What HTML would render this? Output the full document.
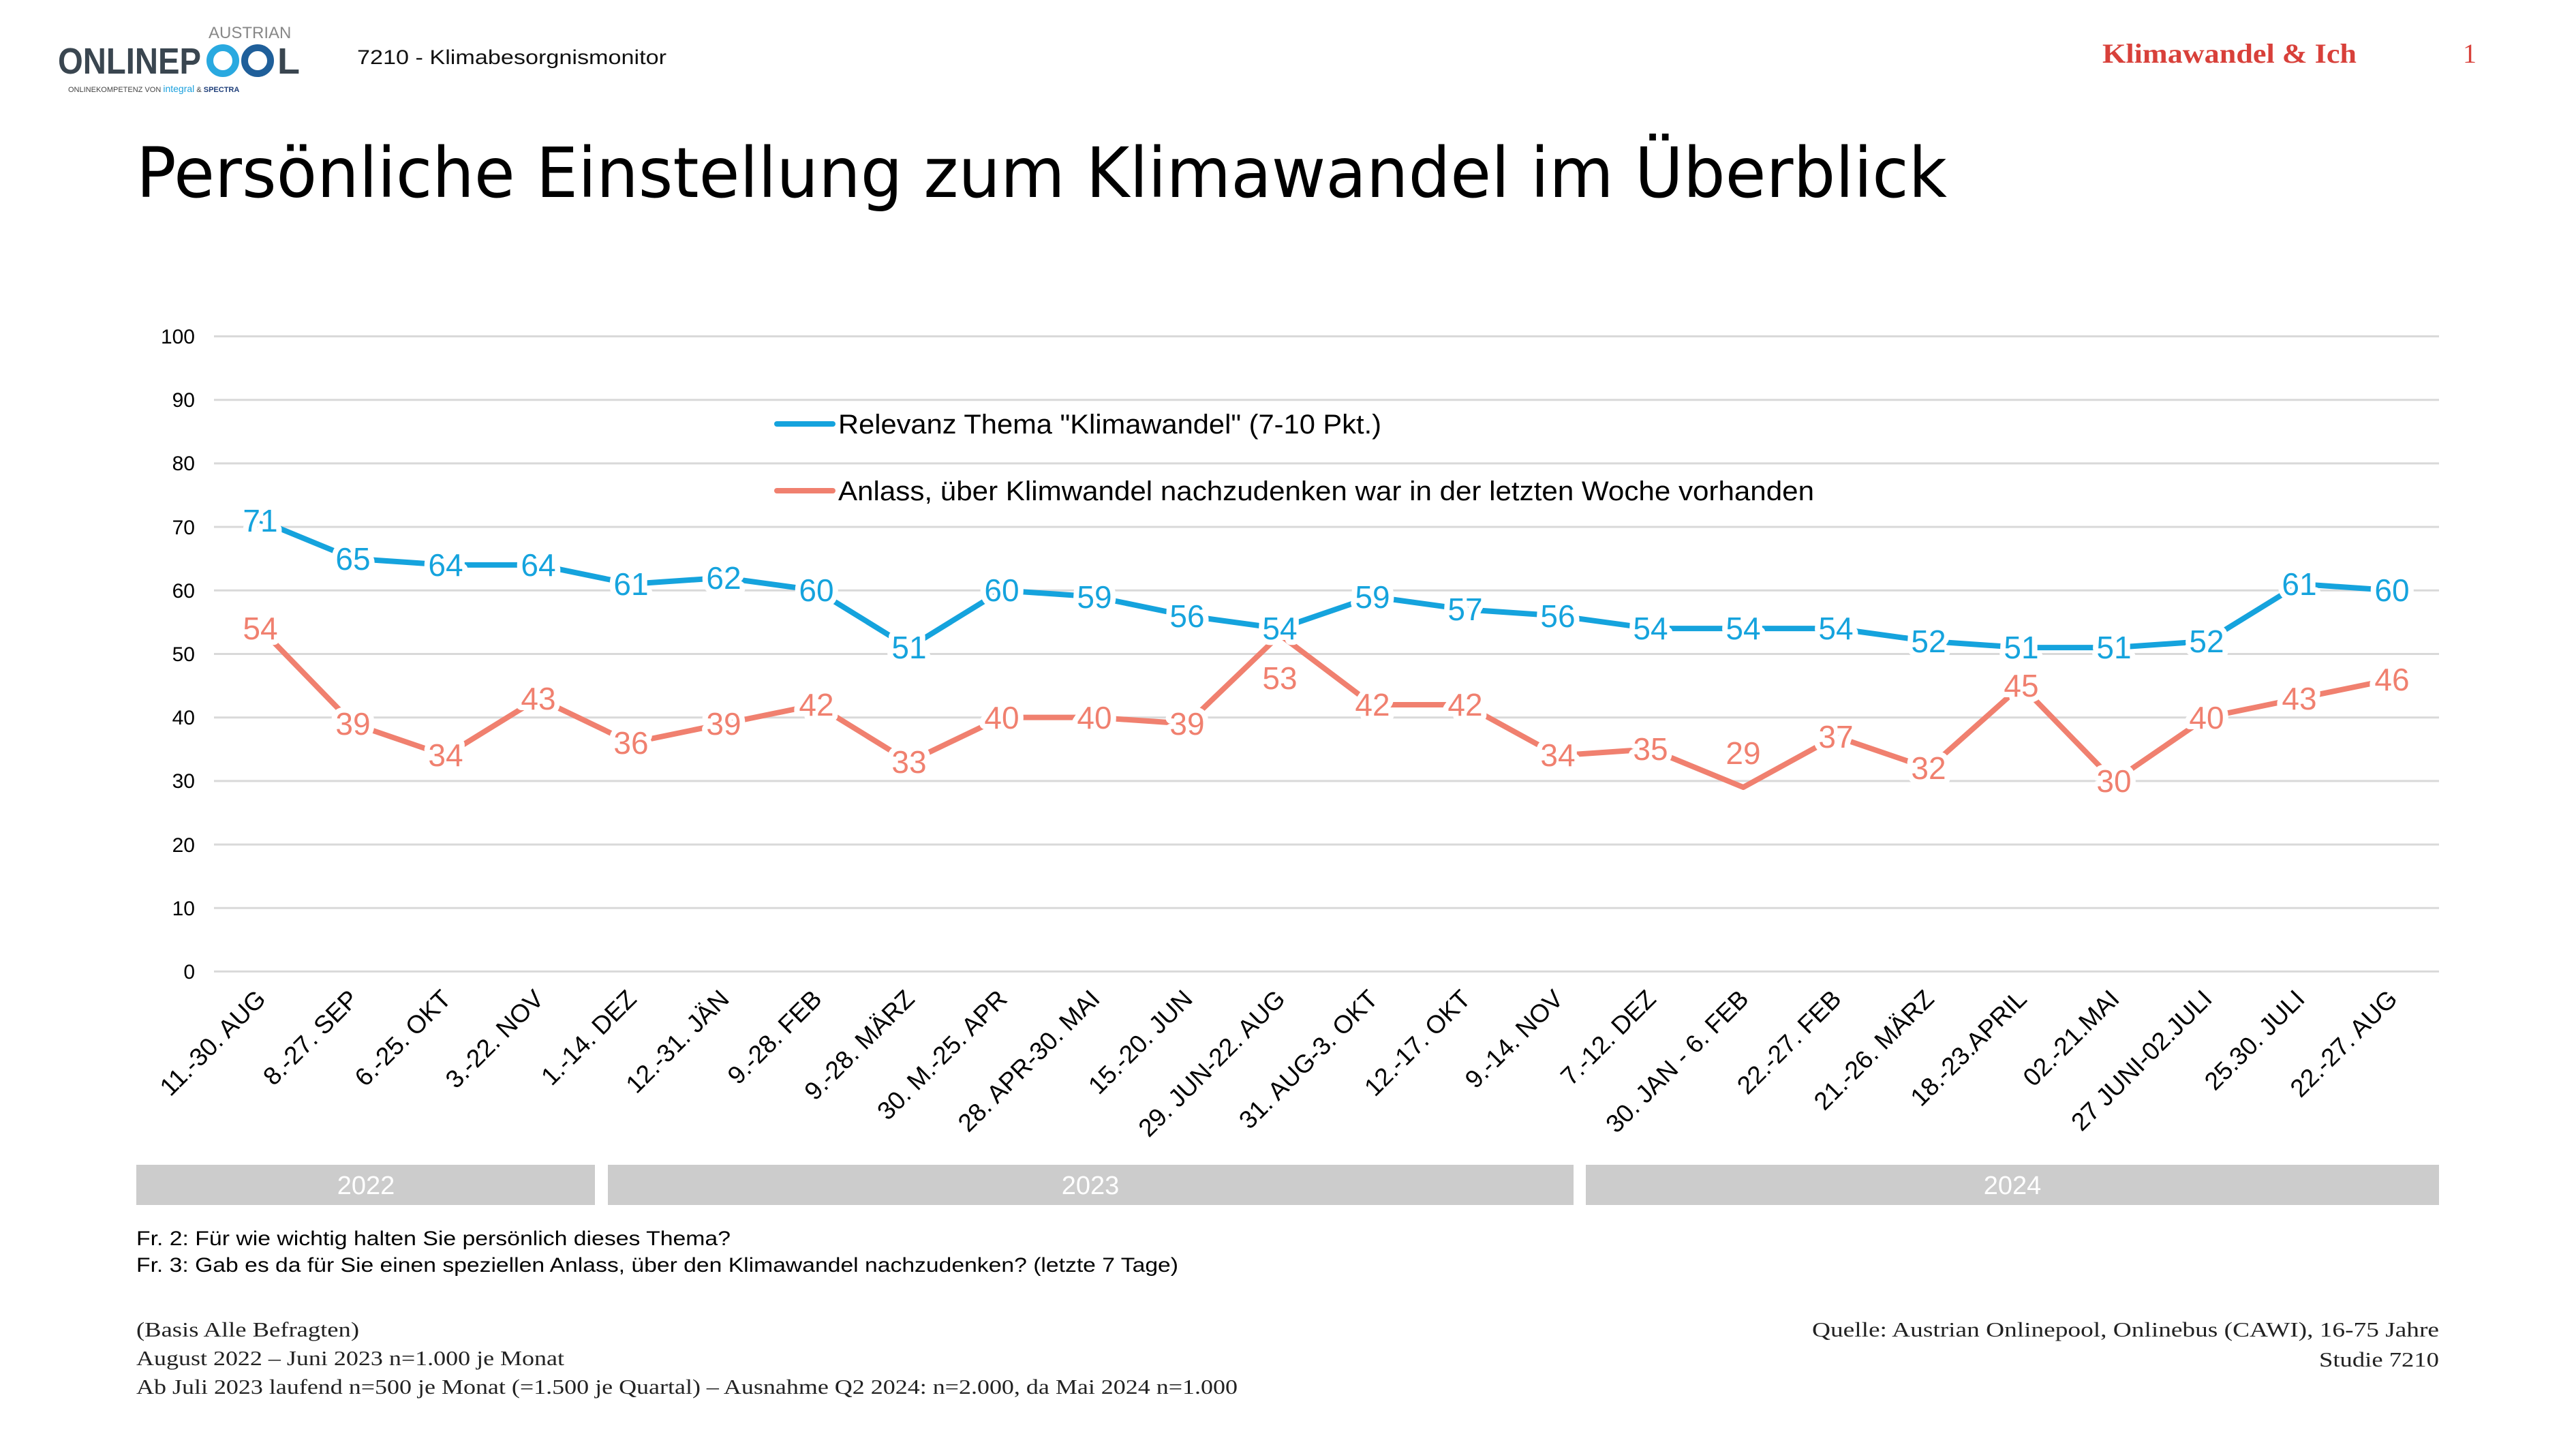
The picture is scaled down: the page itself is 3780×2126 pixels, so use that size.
<!DOCTYPE html>
<html><head><meta charset="utf-8"><style>
html,body{margin:0;padding:0;background:#fff}
svg{display:block}
text{font-family:"Liberation Sans","DejaVu Sans",sans-serif}
.tick{font-size:30px;fill:#000}
.cat{font-size:37px;fill:#000}
.lb{font-size:46px;paint-order:stroke;stroke:#fff;stroke-width:16px;stroke-linejoin:round}
.b{fill:#15a3dd}
.r{fill:#f0806f}
.ser{font-family:"Liberation Serif",serif;font-size:31px;fill:#222}
</style></head><body>
<svg width="3780" height="2126" viewBox="0 0 3780 2126" xmlns="http://www.w3.org/2000/svg">
<!-- logo -->
<text x="306" y="56" style="font-size:24px;fill:#888">AUSTRIAN</text>
<text x="85" y="108" style="font-size:54px;font-weight:bold;fill:#3a4650" textLength="210" lengthAdjust="spacingAndGlyphs">ONLINEP</text>
<circle cx="327" cy="89" r="19" fill="none" stroke="#29a9e0" stroke-width="10"/>
<circle cx="378" cy="89" r="19" fill="none" stroke="#1f5f9a" stroke-width="10"/>
<text x="407" y="108" style="font-size:54px;font-weight:bold;fill:#3a4650">L</text>
<text x="100" y="135" style="font-size:11px;fill:#444">ONLINEKOMPETENZ VON <tspan style="fill:#1aa0dd;font-size:14px">integral</tspan> &amp; <tspan style="fill:#1f3f7a;font-weight:bold">SPECTRA</tspan></text>
<text x="524" y="94" style="font-size:30px;fill:#111" textLength="454" lengthAdjust="spacingAndGlyphs">7210 - Klimabesorgnismonitor</text>
<text x="3085" y="92" style="font-family:'Liberation Serif',serif;font-size:40px;font-weight:bold;fill:#d8403a" textLength="373" lengthAdjust="spacingAndGlyphs">Klimawandel &amp; Ich</text>
<text x="3614" y="92" style="font-family:'Liberation Serif',serif;font-size:40px;fill:#d8403a">1</text>
<text x="200" y="289" style="font-family:'DejaVu Sans',sans-serif;font-size:102px;fill:#000" textLength="2657" lengthAdjust="spacingAndGlyphs">Persönliche Einstellung zum Klimawandel im Überblick</text>

<!-- grid -->
<g stroke="#d9d9d9" stroke-width="3">
<line x1="314" x2="3579" y1="493.5" y2="493.5"/><line x1="314" x2="3579" y1="586.7" y2="586.7"/>
<line x1="314" x2="3579" y1="679.9" y2="679.9"/><line x1="314" x2="3579" y1="773.1" y2="773.1"/>
<line x1="314" x2="3579" y1="866.3" y2="866.3"/><line x1="314" x2="3579" y1="959.5" y2="959.5"/>
<line x1="314" x2="3579" y1="1052.7" y2="1052.7"/><line x1="314" x2="3579" y1="1145.9" y2="1145.9"/>
<line x1="314" x2="3579" y1="1239.1" y2="1239.1"/><line x1="314" x2="3579" y1="1332.3" y2="1332.3"/>
<line x1="314" x2="3579" y1="1425.4" y2="1425.4"/>
</g>
<g class="tick" text-anchor="end">
<text x="286" y="504">100</text><text x="286" y="597">90</text><text x="286" y="690">80</text>
<text x="286" y="784">70</text><text x="286" y="877">60</text><text x="286" y="970">50</text>
<text x="286" y="1063">40</text><text x="286" y="1156">30</text><text x="286" y="1250">20</text>
<text x="286" y="1343">10</text><text x="286" y="1436">0</text>
</g>

<!-- legend -->
<line x1="1140" x2="1222" y1="622" y2="622" stroke="#15a3dd" stroke-width="8" stroke-linecap="round"/>
<text x="1230" y="636" style="font-size:40px" textLength="797" lengthAdjust="spacingAndGlyphs">Relevanz Thema "Klimawandel" (7-10 Pkt.)</text>
<line x1="1140" x2="1222" y1="720" y2="720" stroke="#f0806f" stroke-width="8" stroke-linecap="round"/>
<text x="1230" y="734" style="font-size:40px" textLength="1432" lengthAdjust="spacingAndGlyphs">Anlass, über Klimwandel nachzudenken war in der letzten Woche vorhanden</text>

<!-- series -->
<polyline fill="none" stroke="#15a3dd" stroke-width="8" stroke-linejoin="round" points="382,763.7 518,819.6 654,828.9 790,828.9 926,856.9 1062,847.6 1198,866.2 1334,950.1 1470,866.2 1606,875.5 1742,903.5 1878,922.1 2014,875.5 2150,894.2 2286,903.5 2422,922.1 2558,922.1 2694,922.1 2830,940.8 2966,950.1 3102,950.1 3238,940.8 3374,856.9 3510,866.2"/>
<polyline fill="none" stroke="#f0806f" stroke-width="8" stroke-linejoin="round" points="382,922.1 518,1061.9 654,1108.5 790,1024.6 926,1089.9 1062,1061.9 1198,1034 1334,1117.8 1470,1052.6 1606,1052.6 1742,1061.9 1878,931.4 2014,1034 2150,1034 2286,1108.5 2422,1099.2 2558,1155.1 2694,1080.6 2830,1127.2 2966,1006 3102,1145.8 3238,1052.6 3374,1024.6 3510,996.7"/>

<g class="lb b" text-anchor="middle" dominant-baseline="central">
<text x="382" y="764">71</text><text x="518" y="820">65</text><text x="654" y="829">64</text><text x="790" y="829">64</text>
<text x="926" y="857">61</text><text x="1062" y="848">62</text><text x="1198" y="866">60</text><text x="1334" y="950">51</text>
<text x="1470" y="866">60</text><text x="1606" y="876">59</text><text x="1742" y="904">56</text><text x="1878" y="922">54</text>
<text x="2014" y="876">59</text><text x="2150" y="894">57</text><text x="2286" y="904">56</text><text x="2422" y="922">54</text>
<text x="2558" y="922">54</text><text x="2694" y="922">54</text><text x="2830" y="941">52</text><text x="2966" y="950">51</text>
<text x="3102" y="950">51</text><text x="3238" y="941">52</text><text x="3374" y="857">61</text><text x="3510" y="866">60</text>
</g>
<g class="lb r" text-anchor="middle" dominant-baseline="central">
<text x="382" y="922">54</text><text x="518" y="1062">39</text><text x="654" y="1108">34</text><text x="790" y="1025">43</text>
<text x="926" y="1090">36</text><text x="1062" y="1062">39</text><text x="1198" y="1034">42</text><text x="1334" y="1118">33</text>
<text x="1470" y="1053">40</text><text x="1606" y="1053">40</text><text x="1742" y="1062">39</text><text x="1878" y="995">53</text>
<text x="2014" y="1034">42</text><text x="2150" y="1034">42</text><text x="2286" y="1108">34</text><text x="2422" y="1099">35</text>
<text x="2558" y="1105">29</text><text x="2694" y="1081">37</text><text x="2830" y="1127">32</text><text x="2966" y="1006">45</text>
<text x="3102" y="1146">30</text><text x="3238" y="1053">40</text><text x="3374" y="1025">43</text><text x="3510" y="997">46</text>
</g>

<!-- categories -->
<g class="cat" text-anchor="end">
<text transform="translate(392,1468) rotate(-45)">11.-30. AUG</text>
<text transform="translate(528,1468) rotate(-45)">8.-27. SEP</text>
<text transform="translate(664,1468) rotate(-45)">6.-25. OKT</text>
<text transform="translate(800,1468) rotate(-45)">3.-22. NOV</text>
<text transform="translate(936,1468) rotate(-45)">1.-14. DEZ</text>
<text transform="translate(1072,1468) rotate(-45)">12.-31. JÄN</text>
<text transform="translate(1208,1468) rotate(-45)">9.-28. FEB</text>
<text transform="translate(1344,1468) rotate(-45)">9.-28. MÄRZ</text>
<text transform="translate(1480,1468) rotate(-45)">30. M.-25. APR</text>
<text transform="translate(1616,1468) rotate(-45)">28. APR-30. MAI</text>
<text transform="translate(1752,1468) rotate(-45)">15.-20. JUN</text>
<text transform="translate(1888,1468) rotate(-45)">29. JUN-22. AUG</text>
<text transform="translate(2024,1468) rotate(-45)">31. AUG-3. OKT</text>
<text transform="translate(2160,1468) rotate(-45)">12.-17. OKT</text>
<text transform="translate(2296,1468) rotate(-45)">9.-14. NOV</text>
<text transform="translate(2432,1468) rotate(-45)">7.-12. DEZ</text>
<text transform="translate(2568,1468) rotate(-45)">30. JAN - 6. FEB</text>
<text transform="translate(2704,1468) rotate(-45)">22.-27. FEB</text>
<text transform="translate(2840,1468) rotate(-45)">21.-26. MÄRZ</text>
<text transform="translate(2976,1468) rotate(-45)">18.-23.APRIL</text>
<text transform="translate(3112,1468) rotate(-45)">02.-21.MAI</text>
<text transform="translate(3248,1468) rotate(-45)">27 JUNI-02.JULI</text>
<text transform="translate(3384,1468) rotate(-45)">25.30. JULI</text>
<text transform="translate(3520,1468) rotate(-45)">22.-27. AUG</text>
</g>

<!-- year bars -->
<rect x="200" y="1709" width="673" height="59" fill="#cccccc"/>
<rect x="892" y="1709" width="1417" height="59" fill="#cccccc"/>
<rect x="2327" y="1709" width="1252" height="59" fill="#cccccc"/>
<g text-anchor="middle" style="font-size:38px;fill:#fff">
<text x="537" y="1752">2022</text><text x="1600" y="1752">2023</text><text x="2953" y="1752">2024</text>
</g>

<text x="200" y="1827" style="font-size:30px;fill:#000" textLength="872" lengthAdjust="spacingAndGlyphs">Fr. 2: Für wie wichtig halten Sie persönlich dieses Thema?</text>
<text x="200" y="1866" style="font-size:30px;fill:#000" textLength="1529" lengthAdjust="spacingAndGlyphs">Fr. 3: Gab es da für Sie einen speziellen Anlass, über den Klimawandel nachzudenken? (letzte 7 Tage)</text>

<text class="ser" x="200" y="1961" textLength="327" lengthAdjust="spacingAndGlyphs">(Basis Alle Befragten)</text>
<text class="ser" x="200" y="2003" textLength="628" lengthAdjust="spacingAndGlyphs">August 2022 – Juni 2023 n=1.000 je Monat</text>
<text class="ser" x="200" y="2045" textLength="1616" lengthAdjust="spacingAndGlyphs">Ab Juli 2023 laufend n=500 je Monat (=1.500 je Quartal) – Ausnahme Q2 2024: n=2.000, da Mai 2024 n=1.000</text>
<text class="ser" x="2659" y="1961" textLength="920" lengthAdjust="spacingAndGlyphs">Quelle: Austrian Onlinepool, Onlinebus (CAWI), 16-75 Jahre</text>
<text class="ser" x="3403" y="2005" textLength="176" lengthAdjust="spacingAndGlyphs">Studie 7210</text>
</svg>
</body></html>
